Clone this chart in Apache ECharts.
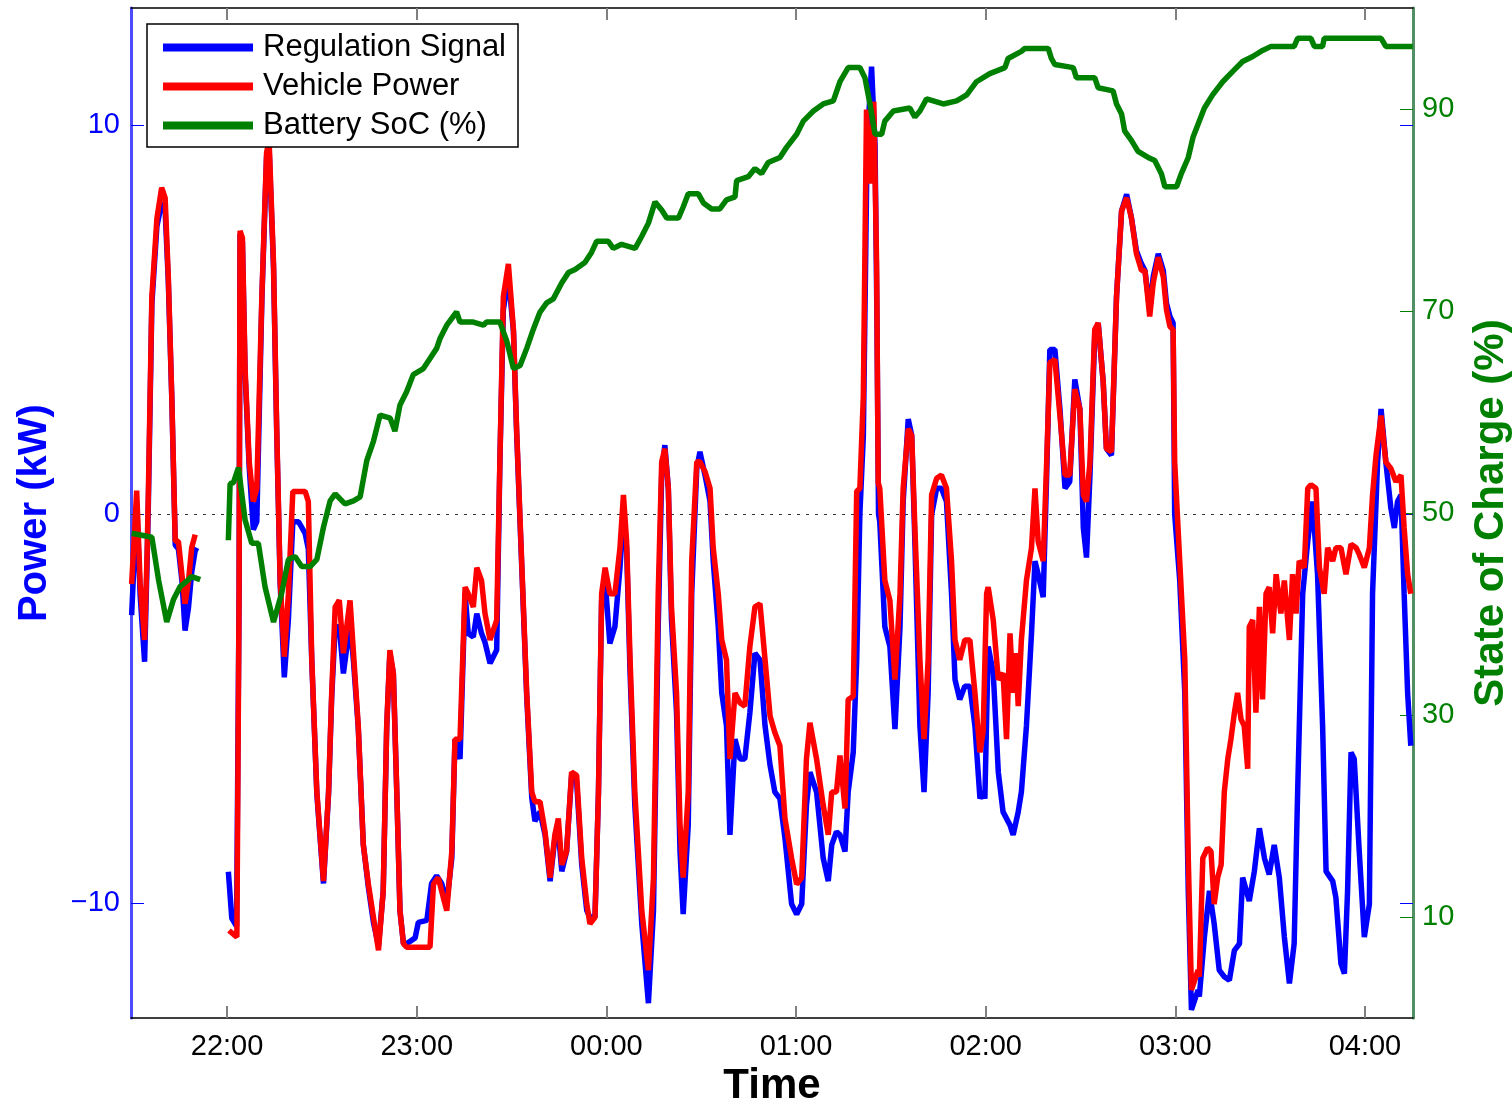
<!DOCTYPE html>
<html>
<head>
<meta charset="utf-8">
<script src="https://cdn.jsdelivr.net/npm/echarts@6/dist/echarts.min.js"></script>
<style>
html,body{margin:0;padding:0;background:#fff;overflow:hidden;}
#chart{width:1512px;height:1105px;}
</style>
</head>
<body>
<div id="chart"></div>
<script>
// x values: minutes relative to 22:00
const hourTicks = [0, 60, 120, 180, 240, 300, 360];
const powerTicks = [-10, 0, 10];
const socTicks = [10, 30, 50, 70, 90];

const regSignal = [
[-30.2,-2.6],[-29.3,-1.0],[-28.6,0.3],[-27.5,-2.1],[-26.1,-3.8],[-25.3,-1.2],[-24.9,0.3],[-23.8,5.4],[-22.2,7.4],[-20.7,8.0],[-19.6,7.8],[-18.6,6.0],[-17.5,3.0],[-16.4,-0.8],[-15.4,-0.9],[-14.3,-1.7],[-13.3,-3.0],[-12.2,-2.4],[-11.2,-1.5],[-10.1,-0.95],[-9.6,-0.87],
[-5,'-'],
[0.4,-9.2],[1.5,-10.4],[3.0,-10.6],[3.8,-2],[4.1,7.2],[4.85,7.0],[5.7,3.6],[7.0,1.2],[8.3,-0.4],[9.4,-0.2],[11.0,5.5],[12.5,9.2],[13.3,9.4],[14.7,6.3],[15.7,2.1],[16.8,-1.8],[18.1,-4.2],[19.4,-2.7],[20.8,-0.2],[22.6,-0.2],[24.7,-0.5],[25.7,-0.9],[26.8,-3.8],[28.4,-7.2],[30.5,-9.5],[32.1,-7.2],[33.1,-4.7],[34.2,-2.9],[35.5,-2.9],[36.8,-4.1],[38.9,-2.8],[40.0,-3.8],[41.5,-5.5],[43.1,-8.5],[44.7,-9.6],[46.3,-10.5],[47.9,-11.1],[49.4,-9.7],[50.5,-5.5],[51.5,-3.6],[52.6,-4.1],[53.7,-7.2],[54.7,-10.2],[55.8,-11.05],[56.8,-11.05],[59.5,-10.9],[60.5,-10.5],[63.2,-10.45],[64.7,-9.5],[66.3,-9.3],[67.9,-9.5],[69.5,-10.0],[71.1,-8.85],[72.1,-5.8],[73.7,-6.3],[75.3,-2.05],[76.3,-3.07],[77.9,-3.16],[79.0,-2.56],[80.5,-3.07],[81.6,-3.3],[83.2,-3.84],[85.3,-3.5],[86.3,1.3],[87.4,5.25],[89.0,6.1],[90.6,4.7],[91.6,2.1],[93.2,-1.3],[94.8,-4.7],[96.4,-7.3],[97.4,-7.9],[99.0,-7.66],[100.6,-8.25],[102.2,-9.44],[103.7,-8.34],
[104.8,-8.17],[105.9,-9.19],[107.4,-8.68],[109.0,-6.72],[110.6,-6.89],[112.2,-9.02],[113.8,-10.2],[114.8,-10.37],[116.4,-10.37],[117.5,-7.15],[118.5,-2.22],[119.6,-1.71],[121.1,-3.33],[122.7,-2.9],[124.3,-1.38],[125.4,-0.02],[126.4,-0.87],[127.5,-4.09],[129.0,-7.49],[131.2,-10.54],[133.3,-12.58],[134.9,-10.2],[136.4,-2.9],[137.5,1.0],[138.5,1.77],[139.6,0.66],[140.6,-2.73],[142.2,-5.11],[143.3,-8.68],[144.3,-10.29],[145.9,-8.0],[147.0,-2.05],[148.6,1.17],[149.6,1.6],[151.2,1.0],[152.8,0.32],[153.8,-1.21],[155.4,-2.9],[156.5,-4.6],[158.0,-5.45],[159.1,-8.25],[160.7,-5.79],[162.3,-6.3],[163.8,-6.3],[165.4,-5.11],[167.0,-3.58],[168.6,-3.75],[170.2,-5.45],[171.8,-6.47],
[173.3,-7.15],[174.9,-7.32],[176.5,-8.34],[178.6,-10.03],[180.2,-10.29],[181.8,-10.03],[183.3,-7.49],[184.4,-6.64],[186.5,-7.15],[188.6,-8.85],[190.2,-9.44],[191.3,-8.51],[192.8,-8.17],[193.9,-8.25],[195.5,-8.68],[196.5,-7.15],[198.1,-6.13],[199.2,-3.75],[200.2,0.0],[201.3,2.0],[202.5,9.5],[203.9,11.5],[205.0,9.5],[205.6,5.0],[206.1,0.0],[206.5,-0.2],[208.1,-2.9],[209.7,-3.41],[211.3,-5.53],[212.9,-2.9],[213.9,0.32],[215.5,2.44],[216.6,2.02],[217.6,-0.7],[219.2,-5.45],[220.5,-7.15],[221.8,-4.6],[222.9,-0.02],[224.5,0.66],[226.0,0.66],[227.6,0.32],[229.2,-2.05],[230.3,-4.26],[231.8,-4.77],[233.4,-4.43],[235.0,-4.43],[236.6,-5.45],[238.2,-7.32],[239.2,-7.15],
[239.75,-7.32],[240.8,-3.41],[242.4,-4.09],[244.0,-6.64],[245.5,-7.66],[247.7,-8.0],[248.7,-8.25],[250.3,-7.66],[251.3,-7.15],[252.9,-5.45],[254.5,-3.07],[255.6,-1.21],[256.6,-1.55],[258.2,-2.14],[259.3,1.0],[260.3,4.23],[261.9,4.23],[263.5,2.7],[265.1,0.66],[266.6,0.83],[268.2,3.46],[269.8,2.7],[270.9,-0.36],[271.9,-1.12],[273.0,1.0],[274.5,4.57],[275.6,4.91],[277.2,3.38],[278.2,1.68],[279.8,1.51],[281.4,5.59],[283.0,7.79],[284.6,8.22],[286.1,7.62],[287.7,6.77],[289.3,6.43],[290.4,6.26],[291.9,5.25],[293.0,6.1],[294.6,6.69],[296.2,6.26],[297.2,5.42],[298.3,5.08],[299.3,4.91],[299.8,0.0],[301.4,-1.71],[303.0,-4.6],[304.1,-9.69],[305.1,-12.75],[307.2,-12.24],
[307.6,-12.41],[309.2,-10.88],[310.8,-9.69],[312.3,-10.54],[313.9,-11.73],[315.5,-11.9],[317.1,-11.99],[318.7,-11.22],[320.3,-11.05],[321.3,-9.35],[323.4,-9.95],[325.0,-9.19],[326.6,-8.08],[328.2,-8.85],[329.7,-9.27],[331.3,-8.51],[332.9,-9.35],[334.5,-10.88],[336.1,-12.07],[337.6,-11.05],[338.7,-7.15],[340.3,-2.05],[341.9,-0.7],[343.4,0.32],[345.0,-1.55],[346.6,-5.45],[347.7,-9.19],[349.8,-9.44],[350.8,-9.86],[352.4,-11.56],[353.5,-11.82],[354.5,-9.69],[355.6,-6.13],[356.6,-6.3],[358.2,-8.68],[359.8,-10.88],[361.4,-10.03],[362.4,-2.05],[364.0,1.34],[365.1,2.7],[366.6,1.34],[368.2,0.15],[369.3,-0.36],[370.3,0.32],[371.4,0.49],[372.4,-2.05],[373.5,-4.6],[374.5,-5.96]
];

const vehiclePower = [
[-30.2,-1.8],[-29.3,-0.5],[-28.6,0.6],[-27.5,-1.8],[-26.1,-3.24],[-25.3,-1.0],[-24.9,0.58],[-23.8,5.59],[-22.2,7.6],[-20.7,8.39],[-19.6,8.13],[-18.6,6.1],[-17.5,3.04],[-16.4,-0.7],[-15.4,-0.7],[-14.3,-1.55],[-13.3,-2.31],[-12.2,-1.71],[-11.2,-0.87],[-10.1,-0.53],
[-5,'-'],
[0.6,-10.71],[3.1,-10.88],[3.8,-2.0],[4.1,7.28],[4.85,7.1],[5.7,3.72],[7.0,1.34],[8.3,0.32],[9.4,0.66],[11.0,5.59],[12.5,9.3],[13.3,9.58],[14.7,6.43],[15.7,2.19],[16.8,-1.71],[18.1,-3.67],[19.4,-2.05],[20.8,0.58],[22.6,0.58],[24.7,0.58],[25.7,0.32],[26.8,-3.75],[28.4,-7.15],[30.5,-9.44],[32.1,-7.15],[33.1,-4.6],[34.2,-2.39],[35.5,-2.22],[36.8,-3.58],[38.9,-2.22],[40.0,-3.58],[41.5,-5.45],[43.1,-8.51],[44.7,-9.52],[46.3,-10.37],[47.9,-11.22],[49.4,-9.69],[50.5,-5.45],[51.5,-3.5],[52.6,-4.09],[53.7,-7.15],[54.7,-10.2],[55.8,-11.05],[56.8,-11.14],[61.0,-11.14],[64.2,-11.14],[65.3,-9.52],[66.8,-9.35],[68.4,-9.86],[69.5,-10.2],[71.1,-8.68],[72.1,-5.79],[73.7,-5.79],[75.3,-1.88],[76.3,-2.05],[77.9,-2.39],[79.0,-1.38],[80.5,-1.71],[81.6,-2.56],[83.2,-3.24],[85.3,-2.73],[86.3,1.34],[87.4,5.59],[89.0,6.43],[90.6,4.74],[91.6,2.19],[93.2,-1.21],[94.8,-4.6],[96.4,-7.15],[97.4,-7.4],[99.0,-7.4],[100.6,-8.17],[102.2,-9.35],[103.7,-8.25],
[104.8,-7.83],[105.9,-9.02],[107.4,-8.68],[109.0,-6.64],[110.6,-6.72],[112.2,-8.85],[113.8,-10.03],[114.8,-10.54],[116.4,-10.37],[117.5,-7.15],[118.5,-2.05],[119.6,-1.38],[121.1,-2.05],[122.7,-2.05],[124.3,-0.87],[125.4,0.49],[126.4,-0.7],[127.5,-3.75],[129.0,-7.15],[131.2,-10.2],[133.3,-11.73],[134.9,-9.35],[136.4,-2.05],[137.5,1.34],[138.5,1.68],[139.6,0.66],[140.6,-2.39],[142.2,-4.6],[143.3,-8.0],[144.3,-9.35],[145.9,-7.15],[147.0,-1.21],[148.6,1.34],[149.6,1.34],[151.2,1.09],[152.8,0.66],[153.8,-0.87],[155.4,-2.05],[156.5,-3.24],[158.0,-3.75],[159.1,-6.3],[160.7,-4.6],[162.3,-4.86],[163.8,-4.94],[165.4,-3.41],[167.0,-2.39],[168.6,-2.31],[170.2,-3.75],[171.8,-5.2],
[173.3,-5.62],[174.9,-5.96],[176.5,-7.83],[178.6,-8.85],[180.2,-9.52],[181.8,-9.35],[183.3,-6.3],[184.4,-5.37],[186.5,-6.3],[188.6,-7.49],[190.2,-8.25],[191.3,-7.15],[192.8,-7.15],[193.9,-6.21],[195.5,-7.57],[196.5,-4.77],[198.1,-4.69],[199.2,0.58],[200.2,0.66],[201.3,3.04],[202.3,10.4],[203.0,9.0],[203.6,8.5],[204.6,10.6],[205.5,6.4],[206.0,0.8],[206.5,0.66],[208.1,-1.71],[209.7,-2.22],[211.3,-4.26],[212.9,-2.05],[213.9,0.66],[215.5,2.19],[216.6,2.02],[217.6,-0.36],[219.2,-3.75],[220.5,-5.79],[221.8,-3.75],[222.9,0.49],[224.5,0.92],[226.0,1.0],[227.6,0.66],[229.2,-1.21],[230.3,-3.24],[231.8,-3.75],[233.4,-3.24],[235.0,-3.24],[236.6,-4.6],[238.2,-6.13],[239.2,-5.6],
[240.3,-2.05],[240.8,-1.88],[242.4,-2.73],[244.0,-4.26],[245.5,-4.09],[246.6,-5.79],[247.7,-3.07],[248.7,-4.6],[249.5,-3.58],[250.3,-4.94],[251.3,-3.24],[252.9,-1.71],[254.5,-0.87],[255.6,0.66],[256.6,-0.7],[258.2,-1.21],[259.3,1.34],[260.3,3.89],[261.9,3.97],[263.5,2.53],[265.1,1.0],[266.6,1.0],[268.2,3.21],[269.8,2.7],[270.9,0.49],[271.9,0.32],[273.0,1.34],[274.5,4.74],[275.6,4.91],[277.2,3.38],[278.2,1.68],[279.8,1.6],[281.4,5.59],[283.0,7.79],[284.6,8.13],[286.1,7.62],[287.7,6.69],[289.3,6.26],[290.4,6.26],[291.9,5.08],[293.0,5.93],[294.6,6.6],[296.2,6.1],[297.2,5.25],[298.3,4.82],[299.3,4.74],[299.8,1.34],[301.4,-1.21],[303.0,-3.75],[304.1,-8.85],[305.1,-12.24],[307.2,-11.73],
[307.6,-11.9],[308.7,-8.85],[310.2,-8.59],[311.3,-8.68],[312.3,-10.03],[313.4,-9.35],[314.5,-9.02],[315.5,-7.15],[316.6,-6.3],[317.6,-5.79],[318.7,-5.11],[319.7,-4.6],[320.8,-5.28],[321.8,-5.45],[322.9,-6.55],[323.4,-2.9],[324.5,-2.73],[325.5,-5.11],[326.6,-2.39],[327.6,-4.77],[328.7,-2.05],[329.7,-1.88],[330.8,-3.07],[331.9,-1.55],[333.4,-2.56],[334.5,-1.71],[336.1,-3.24],[337.1,-1.55],[338.2,-2.56],[339.2,-1.21],[340.8,-1.38],[341.9,0.66],[342.9,0.75],[344.5,0.66],[345.6,-1.38],[347.1,-2.05],[348.2,-0.87],[349.8,-1.21],[350.8,-0.87],[352.4,-0.87],[354.0,-1.55],[355.6,-0.78],[357.2,-0.87],[358.2,-1.04],[359.8,-1.38],[361.4,-0.87],[362.4,0.49],[363.5,1.51],[365.1,2.53],[366.6,1.34],[368.2,1.17],[369.8,0.83],[371.4,1.0],[372.4,-0.36],[373.5,-1.55],[374.5,-2.05]
];

const batterySoc = [
[-30.2,48.0],[-23.8,47.6],[-21.7,43.4],[-19.1,39.2],[-17.0,41.4],[-14.9,42.7],[-13.3,43.1],[-11.2,43.7],[-8.5,43.4],
[-4,'-'],
[0.4,47.3],[0.95,52.9],[2.0,53.0],[3.6,54.5],[5.7,49.3],[7.8,47.0],[9.9,47.0],[12.0,42.7],[14.7,39.2],[17.3,42.1],[19.4,45.4],[21.5,45.7],[23.6,44.7],[26.3,44.7],[28.4,45.4],[30.5,48.6],[32.6,51.2],[34.2,51.9],[37.3,50.9],[40.0,51.2],[42.1,51.6],[44.2,55.2],[46.3,57.1],[48.4,59.7],[51.6,59.4],[53.1,58.1],[54.7,60.7],[56.8,62.0],[58.9,63.7],[62.1,64.3],[64.2,65.3],[66.3,66.3],[67.4,67.3],[69.5,68.6],[72.6,69.9],[73.7,68.9],[77.9,68.9],[81.1,68.6],[82.1,68.9],[86.3,68.9],[88.5,67.0],[90.6,64.3],[92.7,64.6],[94.8,66.3],[96.9,68.2],[99.0,69.9],[101.1,70.8],[103.2,71.2],[105.9,72.8],[108.0,73.8],[110.1,74.1],[113.2,74.8],[115.3,75.8],[116.9,76.9],[120.6,76.9],[122.2,76.2],[124.8,76.6],[129.1,76.2],[131.2,77.4],[133.3,78.7],[135.4,80.8],[137.5,80.0],[139.1,79.2],[142.8,79.2],[144.3,80.3],[145.9,81.6],[149.1,81.6],[150.7,80.7],[153.3,80.1],[155.9,80.1],[158.0,81.0],[160.7,81.3],[161.2,82.9],[164.9,83.3],[167.0,84.1],[169.1,83.6],[171.2,84.7],[174.9,85.2],[177.0,86.2],[180.2,87.5],[182.3,88.8],[185.5,89.8],[188.6,90.5],[191.8,90.8],[193.9,92.7],[196.5,94.1],[200.2,94.1],[201.8,93.1],[203.4,90.5],[205.0,87.5],[207.1,87.5],[208.1,88.8],[210.8,89.8],[216.0,90.1],[217.6,89.2],[219.2,89.8],[221.3,91.0],[226.6,90.5],[230.8,90.8],[234.0,91.4],[237.1,92.7],[241.3,93.5],[246.1,94.1],[247.1,95.0],[251.3,95.7],[252.4,96.0],[259.8,96.0],[260.8,95.0],[261.9,94.4],[267.7,94.1],[268.7,93.1],[274.5,93.1],[275.6,92.1],[280.3,91.8],[281.4,90.5],[283.0,89.5],[284.0,87.8],[286.1,86.9],[288.2,85.8],[291.4,85.2],[293.5,84.9],[295.6,83.6],[296.7,82.3],[300.4,82.3],[301.9,83.6],[304.1,85.2],[305.6,87.2],[307.2,88.5],[309.2,90.1],[311.8,91.4],[315.0,92.7],[318.1,93.7],[321.3,94.7],[324.5,95.2],[327.6,95.8],[330.3,96.2],[337.6,96.2],[338.7,97.0],[342.9,97.0],[344.0,96.2],[346.6,96.2],[347.1,97.0],[365.1,97.0],[366.6,96.2],[375.1,96.2]
];

const FONT = "'Liberation Sans', Arial, Helvetica, sans-serif";
const BLUE = '#0000ff', RED = '#ff0000', GREEN = '#008000';

function hourLabel(v) {
  const h = (22 + Math.round(v / 60)) % 24;
  return String(h).padStart(2, '0') + ':00';
}
function signedLabel(v) { return v < 0 ? '\u2212' + Math.abs(v) : String(v); }

const chart = echarts.init(document.getElementById('chart'), null, {renderer: 'canvas'});
chart.setOption({
  animation: false,
  backgroundColor: '#fff',
  textStyle: {fontFamily: FONT},
  grid: {left: 131, right: 99, top: 8, bottom: 87, containLabel: false, outerBoundsMode: 'none'},
  legend: {
    orient: 'vertical', left: 147, top: 24,
    padding: [8, 12, 6, 16],
    backgroundColor: '#fff', borderColor: '#000', borderWidth: 1.5, borderRadius: 0,
    itemWidth: 90, itemHeight: 8, itemGap: 8, icon: 'rect',
    textStyle: {fontSize: 31, color: '#000', fontFamily: FONT, padding: [0, 0, 0, 5]},
    data: ['Regulation Signal', 'Vehicle Power', 'Battery SoC (%)']
  },
  xAxis: [{
    type: 'value', min: -30.4, max: 375.2, position: 'bottom',
    axisLine: {show: true, onZero: false, lineStyle: {color: '#000', width: 1.5}},
    axisTick: {show: true, inside: true, length: 12, customValues: hourTicks, lineStyle: {color: '#808080', width: 2}},
    axisLabel: {show: true, customValues: hourTicks, formatter: hourLabel, fontSize: 29, color: '#000', margin: 14, fontFamily: FONT},
    splitLine: {show: false},
    name: 'Time', nameLocation: 'middle', nameGap: 46,
    nameTextStyle: {fontSize: 42, fontWeight: 'bold', color: '#000', fontFamily: FONT}
  }, {
    type: 'value', min: -30.4, max: 375.2, position: 'top',
    axisLine: {show: true, onZero: false, lineStyle: {color: '#000', width: 1.5}},
    axisTick: {show: true, inside: true, length: 12, customValues: hourTicks, lineStyle: {color: '#808080', width: 2}},
    axisLabel: {show: false},
    splitLine: {show: false}
  }],
  yAxis: [{
    type: 'value', min: -12.96, max: 13.01, position: 'left',
    axisLine: {show: true, onZero: false, lineStyle: {color: '#4d4dff', width: 3}},
    axisTick: {show: true, inside: true, length: 13, customValues: powerTicks, lineStyle: {color: BLUE, width: 1}},
    axisLabel: {show: true, customValues: powerTicks, formatter: signedLabel, fontSize: 29, color: BLUE, margin: 11, fontFamily: FONT},
    splitLine: {show: false},
    name: 'Power (kW)', nameLocation: 'middle', nameGap: 76, nameRotate: 90,
    nameTextStyle: {fontSize: 40, fontWeight: 'bold', color: BLUE, fontFamily: FONT}
  }, {
    type: 'value', min: 0, max: 100, position: 'right',
    axisLine: {show: true, onZero: false, lineStyle: {color: '#528f62', width: 3}},
    axisTick: {show: true, inside: true, length: 13, customValues: socTicks, lineStyle: {color: GREEN, width: 1}},
    axisLabel: {show: true, customValues: socTicks, fontSize: 29, color: GREEN, margin: 9, fontFamily: FONT},
    splitLine: {show: false},
    name: 'State of Charge (%)', nameLocation: 'middle', nameGap: 57, nameRotate: 90,
    nameTextStyle: {fontSize: 42, fontWeight: 'bold', color: GREEN, fontFamily: FONT}
  }, {
    type: 'value', min: -12.96, max: 13.01, position: 'right',
    axisLine: {show: false, onZero: false},
    axisTick: {show: true, inside: true, length: 13, customValues: powerTicks, lineStyle: {color: BLUE, width: 1}},
    axisLabel: {show: false},
    splitLine: {show: false}
  }],
  series: [{
    name: 'Regulation Signal', type: 'line', xAxisIndex: 0, yAxisIndex: 0,
    data: regSignal, showSymbol: false, symbol: 'none', connectNulls: false,
    lineStyle: {color: BLUE, width: 5.5}, itemStyle: {color: BLUE}, z: 2,
    markLine: {
      silent: true, symbol: 'none', label: {show: false}, z: 1,
      lineStyle: {color: '#333', width: 1, type: [3, 6]},
      data: [{yAxis: 0}]
    }
  }, {
    name: 'Vehicle Power', type: 'line', xAxisIndex: 0, yAxisIndex: 0,
    data: vehiclePower, showSymbol: false, symbol: 'none', connectNulls: false,
    lineStyle: {color: RED, width: 5.5}, itemStyle: {color: RED}, z: 3
  }, {
    name: 'Battery SoC (%)', type: 'line', xAxisIndex: 0, yAxisIndex: 1,
    data: batterySoc, showSymbol: false, symbol: 'none', connectNulls: false,
    lineStyle: {color: GREEN, width: 5.5}, itemStyle: {color: GREEN}, z: 4
  }]
});
</script>
</body>
</html>
